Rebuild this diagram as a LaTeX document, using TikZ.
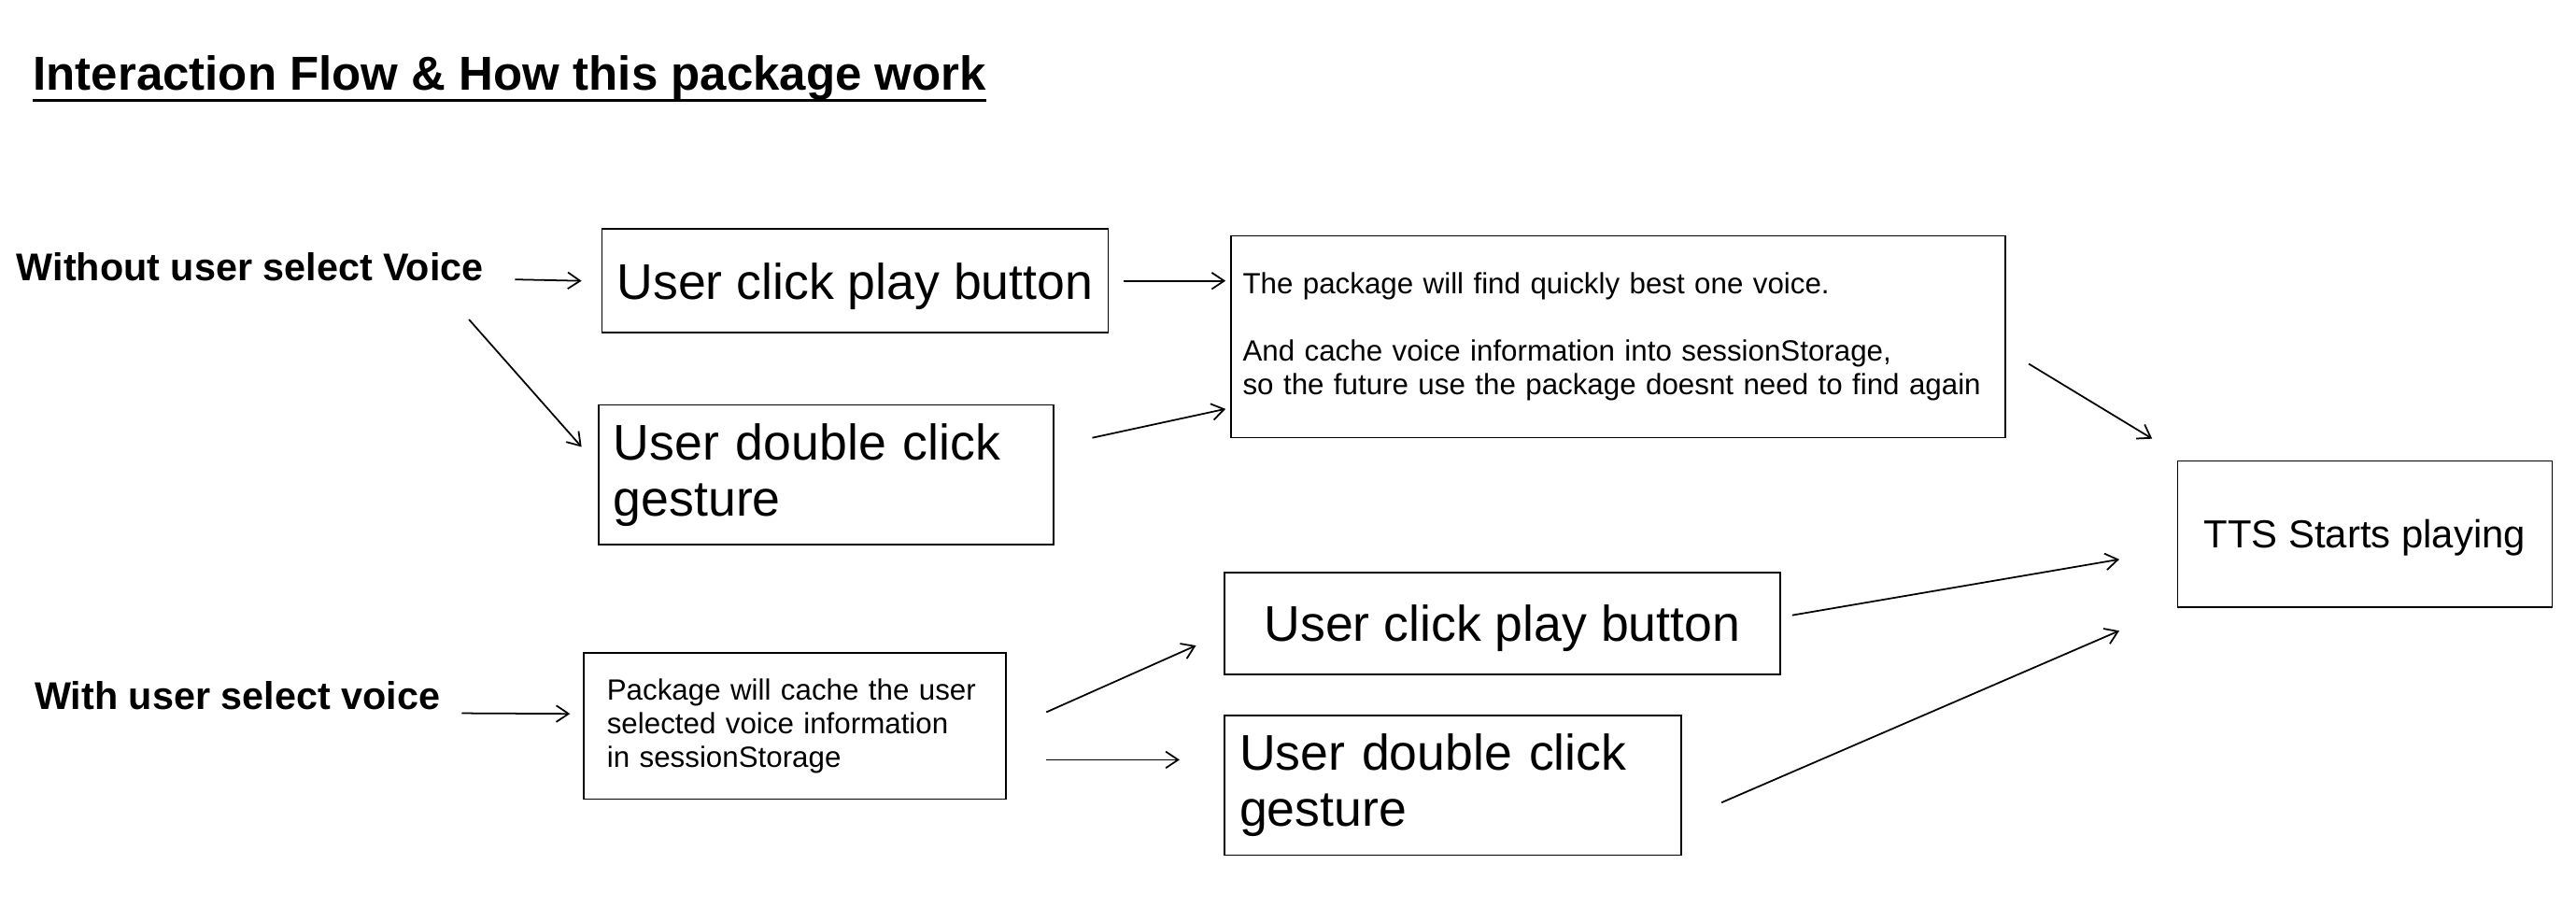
\documentclass[tikz,border=0pt]{standalone}
\usepackage{fontspec}
\setmainfont{Liberation Sans}
\usetikzlibrary{positioning,calc,arrows.meta}

\tikzset{
	box/.style={draw, line width=0.9pt, inner sep=0pt, anchor=north west},
	onebox/.style={box, text depth=0pt},
	lefttext/.style={box, align=left, inner xsep=#1},
	label/.style={inner sep=0pt, anchor=base west, font=\fontsize{23.5}{26}\selectfont\bfseries},
	arr/.style={->, line width=1pt},
}

\begin{document}
\begin{tikzpicture}[x=1pt, y=-1pt, >={Straight Barb[length=7.5pt,width=10pt]}]
	\useasboundingbox (0,0) rectangle (1568,560);
	% title
	\node[inner sep=0pt, anchor=base west, font=\fontsize{29}{32}\selectfont\bfseries] (title) at (20,55) {Interaction Flow \& How this package work};
	\draw[line width=2pt] ($(title.base west)+(0,6)$) -- ($(title.base east)+(0,6)$);

	% without user select
	\node[label] (nosel) at (10,171) {Without user select Voice};
	\node[onebox, minimum width=308pt, minimum height=63pt, font=\fontsize{30.5}{34}\selectfont] (clickA) at (366,139) {User click play button};
	\node[lefttext=9pt, text width=259pt, minimum height=85pt, font=\fontsize{30.5}{34}\selectfont] (dblA) at (364,246) {User double click\\gesture};
	\node[lefttext=7pt, text width=457pt, minimum height=123pt, font=\fontsize{17.8}{20.5}\selectfont] (findvoice) at (749,143)
		{The package will find quickly best one voice.\\[20.5pt]And cache voice information into sessionStorage,\\so the future use the package doesnt need to find again};

	% with user select
	\node[label] (withsel) at (21,432) {With user select voice};
	\node[lefttext=14pt, text width=229pt, minimum height=89pt, font=\fontsize{17.8}{20.5}\selectfont] (cache) at (355,397)
		{Package will cache the user\\selected voice information\\in sessionStorage};
	\node[onebox, minimum width=338pt, minimum height=62pt, font=\fontsize{30.5}{34}\selectfont] (clickB) at (745,348) {User click play button};
	\node[lefttext=9pt, text width=260pt, minimum height=85pt, font=\fontsize{30.5}{34}\selectfont] (dblB) at (745,435) {User double click\\gesture};

	% result
	\node[onebox, minimum width=228pt, minimum height=89pt, font=\fontsize{23.8}{27}\selectfont] (tts) at (1325,280) {TTS Starts playing};

	% arrows
	\draw[arr] ($(nosel.east)+(19,7.5)$) -- ($(clickA.west)+(-12,0)$);
	\draw[arr] ($(nosel.south east)+(-9,23)$) -- ($(dblA.north west)+(-10,26)$);
	\draw[arr] ($(clickA.east)+(9,0)$) -- ($(findvoice.west |- clickA.east)+(-3,0)$);
	\draw[arr] ($(dblA.east)+(23,-22.5)$) -- ($(findvoice.south west)+(-3,-18)$);
	\draw[arr] ($(findvoice.east)+(14,16.5)$) -- ($(tts.north west)+(-15,-13)$);
	\draw[arr] ($(withsel.east)+(13,10.5)$) -- ($(cache.west)+(-8,-7.5)$);
	\draw[arr] ($(cache.east)+(24,-8.5)$) -- ($(clickB.south west)+(-17,-18)$);
	\draw[arr] ($(cache.east)+(24,20.5)$) -- ($(dblB.west)+(-27,-15.5)$);
	\draw[arr] ($(clickB.east)+(7,-5)$) -- ($(tts.west)+(-35,15.5)$);
	\draw[arr] ($(dblB.east)+(24,10.5)$) -- ($(tts.south west)+(-35,14)$);
\end{tikzpicture}
\end{document}
